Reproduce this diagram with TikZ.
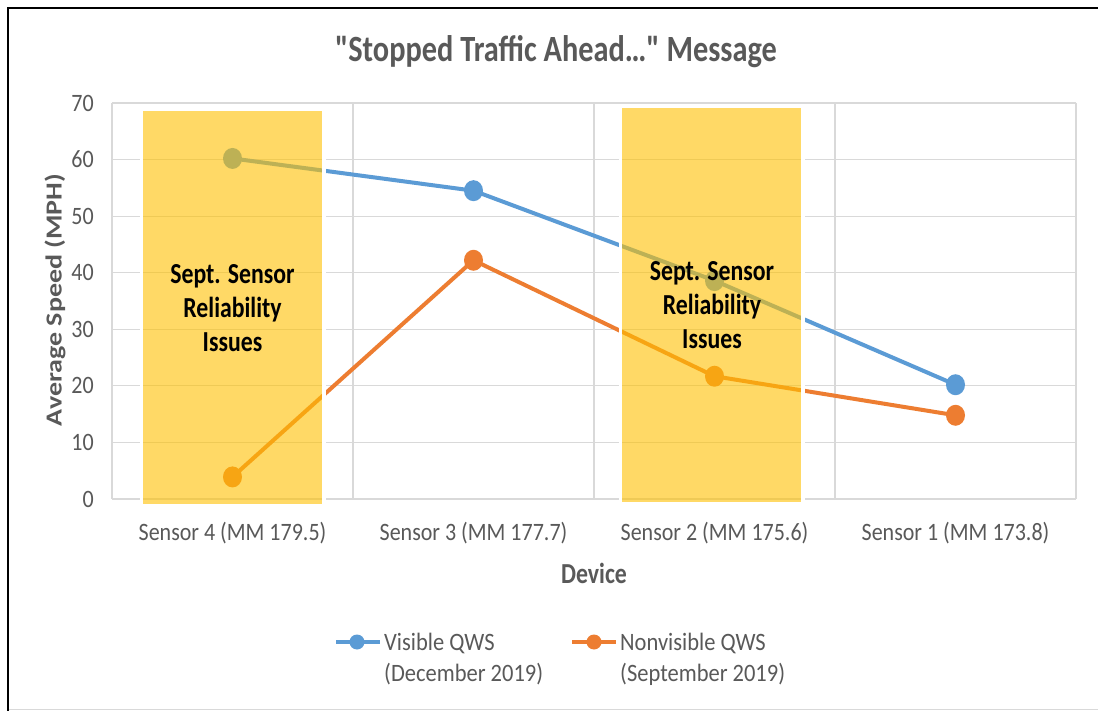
\documentclass[tikz,border=0pt]{standalone}
\usepackage{fontspec}
\usepackage{graphicx}
\setmainfont{Carlito}
\newfontfamily\cf[FakeStretch=0.82]{Carlito}
\newfontfamily\tf[FakeStretch=0.88]{Carlito}
\newfontfamily\lf[FakeStretch=0.9]{Carlito}
\usetikzlibrary{shapes.geometric}
\definecolor{gridc}{HTML}{D9D9D9}
\definecolor{tgrey}{HTML}{595959}
\definecolor{sblue}{HTML}{5B9BD5}
\definecolor{sorange}{HTML}{ED7D31}
\definecolor{syellow}{HTML}{FFC000}
\tikzset{
  grid line/.style={draw=gridc, line width=1.2pt},
  series/.style={line width=4pt, draw=#1},
  marker/.style={ellipse, fill=#1, inner sep=0pt, minimum width=19pt, minimum height=21pt},
  legmark/.style={circle, fill=#1, inner sep=0pt, minimum size=15pt},
  tick/.style={text=tgrey, font=\tf\fontsize{25}{30}\selectfont, inner sep=0pt},
  ylab/.style={text=tgrey, font=\tf\fontsize{25}{30}\selectfont, inner sep=0pt, anchor=east},
  boxtext/.style={text=black, font=\cf\bfseries\fontsize{29}{34}\selectfont, align=center, inner sep=0pt},
  legtext/.style={text=tgrey, font=\lf\fontsize{25}{31}\selectfont, align=left, inner sep=0pt, anchor=west},
  halo/.style={draw=white, line width=3.5pt},
  overlay box/.style={fill=syellow, fill opacity=0.6},
}
\begin{document}
\begin{tikzpicture}[x=1pt,y=-1pt]
\useasboundingbox (0,0) rectangle (1098,711);
\fill[white] (0,0) rectangle (1098,711);
% outer frame
\draw[line width=2.2pt] (8,711) -- (8,8) -- (1098,8);
\draw[gridc, line width=1pt] (9,709.5) -- (1098,709.5);
% title
\node[text=tgrey, font=\cf\bfseries\fontsize{37}{40}\selectfont, inner sep=0pt] (title) at (556,52) {"Stopped Traffic Ahead…" Message};
% grid
\foreach \k in {0,...,7} {
  \draw[grid line] (112,{499-56.57*\k}) -- (1076,{499-56.57*\k});
  \node[ylab] (yl\k) at (94,{499-56.57*\k}) {\pgfmathparse{int(10*\k)}\pgfmathresult};
}
\foreach \xx in {112,353,594,835,1076} {
  \draw[grid line] (\xx,103) -- (\xx,499);
}
% data markers
\node[marker=sblue] (b1) at (232.5,{499-5.657*60.2}) {};
\node[marker=sblue] (b2) at (473.5,{499-5.657*54.5}) {};
\node[marker=sblue] (b3) at (714.5,{499-5.657*38.6}) {};
\node[marker=sblue] (b4) at (955.5,{499-5.657*20.2}) {};
\node[marker=sorange] (o1) at (232.5,{499-5.657*3.9}) {};
\node[marker=sorange] (o2) at (473.5,{499-5.657*42.2}) {};
\node[marker=sorange] (o3) at (714.5,{499-5.657*21.7}) {};
\node[marker=sorange] (o4) at (955.5,{499-5.657*14.8}) {};
\draw[series=sblue] (b1.center) -- (b2.center) -- (b3.center) -- (b4.center);
\draw[series=sorange] (o1.center) -- (o2.center) -- (o3.center) -- (o4.center);
% highlight boxes
\draw[halo] (141.25,108.95) rectangle (323.75,505.75);
\fill[overlay box] (143,110.7) rectangle (322,504);
\draw[halo] (620.25,106.25) rectangle (802.75,503.75);
\fill[overlay box] (622,108) rectangle (801,502);
\node[boxtext] (n1) at (232.5,308.5) {Sept. Sensor\\Reliability\\Issues};
\node[boxtext] (n2) at (712,305.5) {Sept. Sensor\\Reliability\\Issues};
% x labels
\node[tick] (x4) at (232.5,533) {Sensor 4 (MM 179.5)};
\node[tick] (x3) at (473.5,533) {Sensor 3 (MM 177.7)};
\node[tick] (x2) at (714.5,533) {Sensor 2 (MM 175.6)};
\node[tick] (x1) at (955.5,533) {Sensor 1 (MM 173.8)};
\node[text=tgrey, font=\cf\bfseries\fontsize{29}{32}\selectfont, inner sep=0pt] (dev) at (594,573) {Device};
\node[text=tgrey, font=\bfseries\fontsize{28}{32}\selectfont, inner sep=0pt, rotate=90] (ytitle) at (55,300) {\scalebox{1}[0.82]{Average Speed (MPH)}};
% legend
\coordinate (lb1) at (336,642);
\coordinate (lb2) at (380,642);
\draw[series=sblue] (lb1) -- (lb2);
\node[legmark=sblue] (lbm) at (357,642) {};
\node[legtext, anchor=north west] (lbt) at (384,633) {Visible QWS\\(December 2019)};
\coordinate (lo1) at (572,642);
\coordinate (lo2) at (616,642);
\draw[series=sorange] (lo1) -- (lo2);
\node[legmark=sorange] (lom) at (594,642) {};
\node[legtext, anchor=north west] (lot) at (620,633) {Nonvisible QWS\\(September 2019)};
\end{tikzpicture}
\end{document}
